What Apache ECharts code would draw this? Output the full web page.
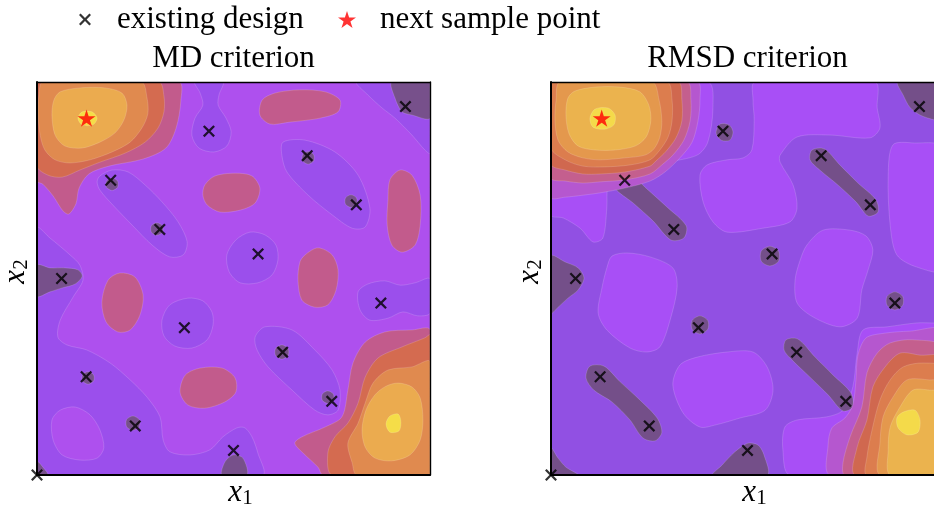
<!DOCTYPE html>
<html><head><meta charset="utf-8">
<script src="https://cdn.jsdelivr.net/npm/echarts@6/dist/echarts.min.js"></script>
<style>html,body{margin:0;padding:0;background:#fff}#c{width:934px;height:505px}</style>
</head><body><div id="c"></div>
<script>
// ---------- design points (x1, x2) ----------
const designX1 = [0, 0.5, 0.25, 0.75, 0.125, 0.625, 0.375, 0.875, 0.0625, 0.5625, 0.3125, 0.8125, 0.1875, 0.6875, 0.4375, 0.9375];
const designX2 = [0, 0.0625, 0.125, 0.1875, 0.25, 0.3125, 0.375, 0.4375, 0.5, 0.5625, 0.625, 0.6875, 0.75, 0.8125, 0.875, 0.9375];
const mdNextPoint = [0.126, 0.908];
const rmsdNextPoint = [0.129, 0.908];
const panelTitles = ['MD criterion', 'RMSD criterion'];

// ---------- MD criterion: filled contour regions, by level ----------
const mdBase = [[[0,0],[1,0],[1,1],[0,1]]];               // level 2
const mdLevel1 = [
  [[.402,1],[.473,1],[.463,.967],[.461,.941],[.481,.908],[.494,.873],[.483,.837],[.450,.822],[.412,.832],[.394,.865],[.402,.908],[.422,.941],[.415,.972]],
  [[.160,.761],[.191,.776],[.232,.771],[.275,.738],[.318,.695],[.359,.644],[.382,.593],[.372,.560],[.338,.555],[.293,.585],[.242,.636],[.193,.687],[.160,.725],[.153,.746]],
  [[.626,.847],[.682,.852],[.758,.822],[.817,.763],[.847,.679],[.835,.631],[.802,.628],[.751,.662],[.690,.712],[.636,.771],[.623,.814]],
  [[.814,1],[.842,.967],[.878,.934],[.911,.908],[.954,.865],[.987,.827],[1,.819],[1,1]],
  [[0,.628],[.033,.603],[.084,.560],[.109,.534],[.117,.496],[.092,.453],[.059,.394],[.053,.351],[.076,.331],[.127,.318],[.186,.285],[.237,.242],[.280,.198],[.313,.148],[.321,.089],[.338,.059],[.389,.051],[.440,.064],[.473,.097],[.509,.120],[.529,.120],[.547,.097],[.562,.056],[.573,0],[0,0]],
  [[.817,.466],[.842,.486],[.885,.494],[.924,.483],[.962,.489],[1,.499],[1,.412],[.969,.405],[.931,.415],[.893,.399],[.847,.394],[.822,.420]],
  [[.555,.351],[.580,.377],[.649,.369],[.707,.318],[.751,.267],[.771,.216],[.766,.165],[.740,.153],[.707,.165],[.649,.216],[.588,.275],[.560,.318]],
  [[.384,.450],[.422,.443],[.445,.415],[.448,.382],[.433,.344],[.394,.323],[.351,.328],[.323,.354],[.318,.394],[.338,.433]],
  [[.542,.618],[.580,.611],[.608,.585],[.613,.547],[.598,.509],[.562,.489],[.517,.489],[.489,.517],[.483,.560],[.506,.598]]
];
const mdLevel0 = [
  [[.903,1],[.911,.959],[.929,.924],[.954,.916],[1,.908],[1,1]],
  [[0,.534],[.033,.527],[.071,.527],[.104,.522],[.115,.506],[.097,.486],[.064,.476],[.033,.466],[0,.455]],
  [[0,0],[0,.035],[.015,.020],[.028,0]],
  [[.471,0],[.478,.033],[.499,.051],[.524,.043],[.534,0]],
  [[.191,.756],[.205,.748],[.205,.732],[.191,.724],[.177,.732],[.177,.748]],
  [[.305,.642],[.319,.634],[.319,.618],[.305,.610],[.291,.618],[.291,.634]],
  [[.690,.823],[.704,.815],[.704,.799],[.690,.791],[.676,.799],[.676,.815]],
  [[.799,.713],[.813,.705],[.813,.689],[.799,.681],[.785,.689],[.785,.705]],
  [[.130,.263],[.144,.255],[.144,.239],[.130,.231],[.116,.239],[.116,.255]],
  [[.244,.150],[.260,.141],[.260,.123],[.244,.114],[.228,.123],[.228,.141]],
  [[.623,.331],[.639,.322],[.639,.304],[.623,.295],[.607,.304],[.607,.322]],
  [[.740,.214],[.754,.206],[.754,.190],[.740,.182],[.726,.190],[.726,.206]]
];
const mdLevel2 = [
  [[.059,.165],[.097,.173],[.135,.153],[.160,.115],[.170,.069],[.153,.043],[.109,.038],[.064,.051],[.041,.089],[.038,.140]]
];
const mdLevel3 = [
  [[.427,.738],[.453,.761],[.504,.768],[.547,.761],[.567,.730],[.555,.692],[.517,.674],[.466,.669],[.433,.687],[.422,.712]],
  [[.573,.954],[.606,.972],[.669,.980],[.733,.975],[.771,.954],[.766,.924],[.720,.908],[.644,.898],[.593,.893],[.567,.916]],
  [[.898,.751],[.924,.776],[.954,.763],[.975,.712],[.975,.636],[.962,.585],[.929,.567],[.903,.585],[.891,.636],[.893,.700]],
  [[.682,.560],[.715,.578],[.751,.560],[.766,.522],[.761,.471],[.740,.433],[.707,.427],[.674,.445],[.664,.496],[.669,.542]],
  [[.181,.496],[.211,.514],[.249,.504],[.270,.458],[.262,.407],[.237,.369],[.206,.364],[.176,.389],[.165,.440]],
  [[.377,.254],[.415,.272],[.471,.272],[.504,.247],[.506,.211],[.478,.186],[.427,.170],[.384,.178],[.364,.211]],
  [[0,1],[.361,1],[.366,.952],[.354,.883],[.328,.832],[.270,.804],[.183,.786],[.132,.766],[.107,.730],[.099,.690],[.081,.664],[.066,.672],[.041,.710],[.015,.740],[0,.748]],
  [[1,.369],[.954,.369],[.885,.364],[.835,.338],[.804,.285],[.791,.216],[.776,.148],[.733,.122],[.674,.097],[.656,.081],[.677,.056],[.715,.020],[.728,0],[1,0]]
];
const mdLevel4 = [
  [[0,1],[.310,1],[.323,.964],[.323,.924],[.308,.883],[.275,.847],[.224,.819],[.160,.796],[.109,.776],[.064,.758],[.028,.763],[0,.786]],
  [[1,.356],[.987,.349],[.929,.326],[.868,.298],[.835,.249],[.817,.183],[.791,.132],[.758,.097],[.740,.056],[.751,0],[1,0]]
];
const mdLevel5 = [
  [[.015,1],[.265,1],[.280,.959],[.282,.919],[.267,.883],[.237,.847],[.191,.822],[.135,.802],[.084,.794],[.046,.802],[.020,.827],[.008,.865],[.003,.916],[.005,.967]],
  [[1,.288],[.954,.275],[.893,.267],[.855,.234],[.835,.183],[.817,.132],[.791,.081],[.802,.031],[.814,0],[1,0]]
];
const mdLevel6 = [
  [[.059,.975],[.109,.985],[.173,.985],[.216,.972],[.229,.941],[.221,.903],[.198,.870],[.160,.847],[.115,.832],[.071,.837],[.046,.865],[.038,.916],[.043,.954]],
  [[.919,.234],[.954,.224],[.975,.196],[.982,.140],[.975,.089],[.949,.051],[.903,.036],[.860,.043],[.835,.071],[.827,.115],[.837,.165],[.860,.204],[.888,.226]]
];
const mdLevel7 = [
  [[.115,.924],[.140,.924],[.153,.908],[.142,.891],[.115,.891],[.104,.908]],
  [[.898,.150],[.919,.155],[.926,.135],[.921,.112],[.898,.109],[.888,.130]]
];

// ---------- RMSD criterion: filled contour regions, by level ----------
const rmsdBase = [[[0,0],[1,0],[1,1],[0,1]]];           // level 1
const rmsdLevel2 = [
  [[0,1],[.399,1],[.412,.934],[.399,.847],[.372,.814],[.295,.796],[.226,.784],[.168,.771],[.145,.738],[.142,.679],[.132,.603],[.107,.593],[.074,.628],[.031,.654],[0,.662]],
  [[.379,.763],[.397,.789],[.448,.802],[.489,.807],[.511,.827],[.517,.903],[.514,.954],[.519,1],[.824,1],[.830,.934],[.837,.883],[.812,.858],[.710,.865],[.626,.860],[.583,.814],[.583,.796],[.616,.738],[.626,.679],[.608,.644],[.539,.628],[.448,.618],[.412,.644],[.387,.695]],
  [[.155,.557],[.193,.565],[.252,.555],[.310,.527],[.321,.478],[.303,.394],[.277,.326],[.244,.313],[.201,.323],[.142,.369],[.120,.412],[.130,.478],[.142,.527]],
  [[.328,.280],[.372,.300],[.448,.313],[.514,.313],[.550,.275],[.565,.216],[.545,.165],[.481,.145],[.417,.127],[.379,.122],[.336,.158],[.310,.229]],
  [[.621,.496],[.634,.547],[.651,.585],[.692,.623],[.761,.623],[.802,.608],[.819,.573],[.807,.522],[.791,.471],[.779,.399],[.735,.377],[.667,.402],[.626,.438]],
  [[.870,.840],[.921,.845],[1,.832],[1,.522],[.931,.529],[.880,.560],[.863,.636],[.858,.763]],
  [[.595,.122],[.590,.064],[.608,0],[1,0],[1,.389],[.975,.387],[.931,.387],[.855,.377],[.794,.369],[.779,.310],[.768,.224],[.743,.165],[.702,.148],[.626,.140]]
];
const rmsdLevel0 = [
  [[.430,.893],[.453,.891],[.463,.873],[.455,.852],[.433,.852],[.420,.870]],
  [[.165,.761],[.198,.768],[.244,.728],[.295,.682],[.344,.634],[.338,.603],[.305,.598],[.260,.646],[.209,.692],[.163,.730]],
  [[0,.557],[.036,.542],[.069,.527],[.084,.501],[.069,.471],[.043,.450],[.018,.427],[0,.412]],
  [[.379,.405],[.399,.393],[.399,.371],[.379,.359],[.359,.371],[.359,.393]],
  [[.099,.277],[.135,.277],[.176,.237],[.226,.191],[.270,.145],[.282,.109],[.265,.087],[.234,.094],[.201,.140],[.155,.186],[.109,.216],[.089,.247]],
  [[0,.069],[.018,.043],[.038,.020],[.069,0],[0,0]],
  [[.412,0],[.435,.025],[.468,.059],[.501,.081],[.527,.076],[.542,.051],[.550,0]],
  [[.664,.827],[.695,.830],[.735,.789],[.781,.743],[.827,.700],[.832,.669],[.807,.659],[.776,.695],[.730,.738],[.684,.776],[.659,.802]],
  [[.557,.582],[.579,.570],[.579,.544],[.557,.532],[.535,.544],[.535,.570]],
  [[.883,1],[.896,.967],[.913,.936],[.939,.916],[.977,.903],[1,.898],[1,1]],
  [[.598,.344],[.628,.346],[.672,.300],[.718,.254],[.763,.209],[.768,.173],[.743,.163],[.705,.204],[.659,.249],[.613,.293],[.593,.318]],
  [[.875,.466],[.895,.454],[.895,.432],[.875,.420],[.855,.432],[.855,.454]]
];
const rmsdLevel3 = [
  [[0,1],[.372,1],[.379,.954],[.374,.901],[.359,.847],[.328,.807],[.290,.771],[.252,.748],[.188,.730],[.125,.718],[.081,.712],[.036,.707],[0,.707]],
  [[1,.366],[.913,.366],[.850,.361],[.802,.349],[.781,.305],[.776,.242],[.768,.178],[.748,.145],[.715,.120],[.705,.076],[.710,0],[1,0]]
];
const rmsdLevel4 = [
  [[0,1],[.346,1],[.356,.954],[.354,.901],[.338,.852],[.310,.814],[.282,.789],[.252,.766],[.188,.751],[.125,.746],[.081,.743],[.036,.748],[0,.756]],
  [[1,.323],[.921,.344],[.863,.336],[.830,.310],[.804,.260],[.791,.173],[.761,.097],[.743,.031],[.748,0],[1,0]]
];
const rmsdLevel5 = [
  [[0,1],[.323,1],[.333,.954],[.333,.901],[.318,.858],[.293,.824],[.267,.799],[.252,.786],[.188,.771],[.125,.766],[.081,.766],[.036,.776],[0,.791]],
  [[1,.298],[.939,.305],[.888,.310],[.850,.275],[.819,.224],[.804,.140],[.779,.071],[.774,0],[1,0]]
];
const rmsdLevel6 = [
  [[0,1],[.295,1],[.308,.954],[.308,.901],[.298,.860],[.277,.827],[.252,.802],[.201,.789],[.137,.784],[.081,.786],[.036,.802],[0,.832]],
  [[1,.272],[.947,.285],[.896,.275],[.863,.242],[.837,.191],[.817,.115],[.804,.046],[.804,0],[1,0]]
];
const rmsdLevel7 = [
  [[.023,1],[.257,1],[.275,.954],[.282,.901],[.277,.860],[.262,.830],[.239,.814],[.188,.807],[.125,.802],[.081,.807],[.043,.822],[.018,.852],[.010,.903],[.013,.954]],
  [[1,.237],[.964,.242],[.906,.242],[.870,.198],[.845,.148],[.837,.081],[.837,0],[1,0]]
];
const rmsdLevel8 = [
  [[.061,.977],[.112,.987],[.176,.987],[.226,.975],[.249,.941],[.254,.901],[.242,.860],[.214,.837],[.163,.827],[.112,.827],[.069,.837],[.046,.868],[.038,.916],[.043,.959]],
  [[1,.211],[.964,.216],[.921,.216],[.888,.173],[.863,.122],[.858,.064],[.863,0],[1,0]]
];
const rmsdLevel9 = [
  [[.112,.931],[.145,.934],[.163,.916],[.160,.891],[.137,.880],[.107,.885],[.099,.908]],
  [[.896,.160],[.926,.165],[.939,.140],[.934,.109],[.906,.102],[.883,.120],[.880,.145]]
];

// ---------- styling ----------
const mdColors = ['#77508b','#9b4fec','#ae50ee','#c25b8c','#d46b50','#e08a4f','#ebab4f','#f5dd48'];
const rmsdColors = ['#744f89','#9150e3','#a84ff6','#b557cf','#c45f8e','#d0684f','#dc7d4e','#e4984d','#ebb34e','#f4da4a'];
const mdLayers = [[2, mdBase],[1, mdLevel1],[0, mdLevel0],[2, mdLevel2],[3, mdLevel3],[4, mdLevel4],[5, mdLevel5],[6, mdLevel6],[7, mdLevel7]];
const rmsdLayers = [[1, rmsdBase],[2, rmsdLevel2],[0, rmsdLevel0],[3, rmsdLevel3],[4, rmsdLevel4],[5, rmsdLevel5],[6, rmsdLevel6],[7, rmsdLevel7],[8, rmsdLevel8],[9, rmsdLevel9]];

const FONT = 'Liberation Serif';
const X_PATH = 'path://M0,1.6L1.6,0L6,4.4L10.4,0L12,1.6L7.6,6L12,10.4L10.4,12L6,7.6L1.6,12L0,10.4L4.4,6Z';
const STAR_PATH = 'path://M10,0L12.23,6.93L19.51,6.91L13.61,11.17L15.88,18.09L10,13.8L4.12,18.09L6.39,11.17L0.49,6.91L7.77,6.93Z';

function contourSeries(axisIdx, layers, colors) {
  const polys = [];
  layers.forEach(([lvl, arr]) => arr.forEach(p => polys.push({ lvl, pts: p })));
  return {
    type: 'custom', xAxisIndex: axisIdx, yAxisIndex: axisIdx, clip: true, silent: true, z: 1,
    data: polys.map((p, i) => [p.pts[0][0], p.pts[0][1], i]),
    renderItem(params, api) {
      const p = polys[params.dataIndex];
      const cs = params.coordSys;
      return {
        type: 'polygon',
        shape: { points: p.pts.map(q => api.coord(q)), smooth: 0.3,
                 smoothConstraint: [[cs.x, cs.y], [cs.x + cs.width, cs.y + cs.height]] },
        style: { fill: colors[p.lvl], stroke: 'rgba(255,255,255,0.22)', lineWidth: 0.7 }
      };
    }
  };
}

const designData = designX1.map((x, i) => [x, designX2[i]]);
function pointSeries(axisIdx, next) {
  return [
    { type: 'scatter', name: 'existing design', xAxisIndex: axisIdx, yAxisIndex: axisIdx, symbol: X_PATH, symbolSize: 12,
      itemStyle: { color: '#000' }, data: designData, z: 5, clip: false, silent: true },
    { type: 'scatter', name: 'next sample point', xAxisIndex: axisIdx, yAxisIndex: axisIdx, symbol: STAR_PATH, symbolSize: 18,
      symbolKeepAspect: true, itemStyle: { color: '#ff0000' }, data: [next], z: 6, clip: false, silent: true }
  ];
}

const nameRich = {
  v: { fontFamily: FONT, fontStyle: 'italic', fontSize: 31, color: '#000' },
  s: { fontFamily: FONT, fontSize: 21, color: '#000', padding: [12, 0, 0, 0] }
};
function xAxes(grid) {
  return [
    { gridIndex: grid, type: 'value', min: 0, max: 1, position: 'bottom', z: 10,
      name: '{v|x}{s|1}', nameLocation: 'middle', nameGap: 1,
      nameTextStyle: { rich: nameRich, padding: [0, 0, 0, 14], verticalAlign: 'top' },
      axisLine: { onZero: false, lineStyle: { color: '#000', width: 2 } },
      axisTick: { show: false }, axisLabel: { show: false }, splitLine: { show: false } },
    { gridIndex: grid, type: 'value', min: 0, max: 1, position: 'top', z: 10,
      axisLine: { onZero: false, lineStyle: { color: '#000', width: 1.4 } },
      axisTick: { show: false }, axisLabel: { show: false }, splitLine: { show: false } }
  ];
}
function yAxes(grid) {
  return [
    { gridIndex: grid, type: 'value', min: 0, max: 1, position: 'left', z: 10,
      name: '{v|x}{s|2}', nameLocation: 'middle', nameGap: 5, nameRotate: 90,
      nameTextStyle: { rich: nameRich, padding: [0, 0, 0, 14] },
      axisLine: { onZero: false, lineStyle: { color: '#000', width: 2 } },
      axisTick: { show: false }, axisLabel: { show: false }, splitLine: { show: false } },
    { gridIndex: grid, type: 'value', min: 0, max: 1, position: 'right', z: 10,
      axisLine: { onZero: false, lineStyle: { color: '#000', width: 1.4 } },
      axisTick: { show: false }, axisLabel: { show: false }, splitLine: { show: false } }
  ];
}

const chart = echarts.init(document.getElementById('c'), null, { renderer: 'canvas' });
const titleStyle = { fontFamily: FONT, fontSize: 31, fontWeight: 'normal', color: '#000' };
chart.setOption({
  animation: false,
  backgroundColor: '#fff',
  title: [
    { text: panelTitles[0], left: 233.5, top: 43, textAlign: 'center', padding: 0, textStyle: titleStyle },
    { text: panelTitles[1], left: 747.5, top: 43, textAlign: 'center', padding: 0, textStyle: titleStyle }
  ],
  legend: [
    { data: ['existing design'], left: 79, top: 4, padding: 0, itemWidth: 12, itemHeight: 12, selectedMode: false,
      textStyle: { fontFamily: FONT, fontSize: 31, color: '#000', padding: [0, 0, 0, 21] } },
    { data: ['next sample point'], left: 338, top: 4, padding: 0, itemWidth: 18, itemHeight: 18, selectedMode: false,
      textStyle: { fontFamily: FONT, fontSize: 31, color: '#000', padding: [0, 0, 0, 19] } }
  ],
  grid: [
    { left: 37, top: 82, width: 393, height: 393, outerBoundsMode: 'none', containLabel: false },
    { left: 551, top: 82, width: 393, height: 393, outerBoundsMode: 'none', containLabel: false }
  ],
  xAxis: [...xAxes(0), ...xAxes(1)],
  yAxis: [...yAxes(0), ...yAxes(1)],
  series: [
    contourSeries(0, mdLayers, mdColors),
    contourSeries(2, rmsdLayers, rmsdColors),
    ...pointSeries(0, mdNextPoint),
    ...pointSeries(2, rmsdNextPoint)
  ]
});
</script>
</body></html>
